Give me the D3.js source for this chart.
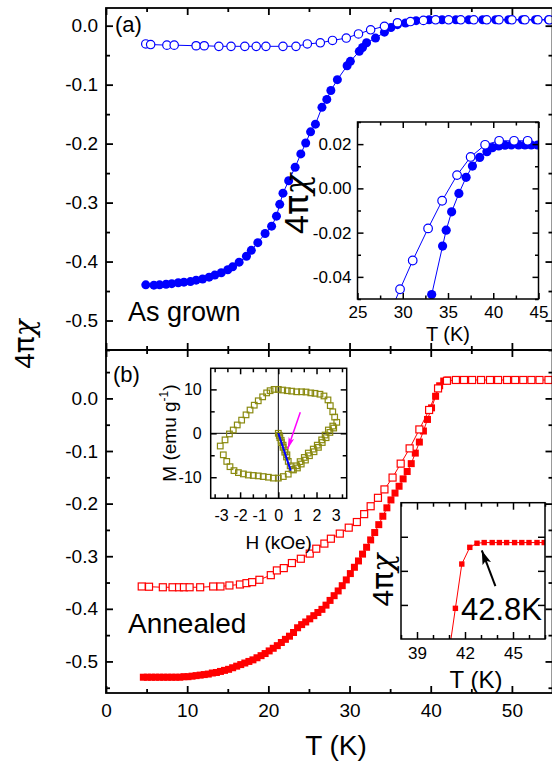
<!DOCTYPE html>
<html lang="en">
<head>
<meta charset="UTF-8">
<title>4pi chi vs T</title>
<style>
  body { margin: 0; background: #fff; }
  svg { display: block; }
  text { font-family: "Liberation Sans", Arial, Helvetica, sans-serif; fill: #000; }
</style>
</head>
<body>
<svg id="chart" width="552" height="763"></svg>
<script src="https://cdn.jsdelivr.net/npm/d3@7"></script>
<script>
// ---- data: [T (K), 4pi chi] ----
const aOpen = [[4.9,-0.031],[5.5,-0.032],[7.5,-0.033],[8.4,-0.033],[11.1,-0.034],[12.1,-0.034],[13.9,-0.035],[15.4,-0.035],[17.1,-0.035],[18.5,-0.035],[19.7,-0.035],[21.8,-0.035],[23.4,-0.035],[24.8,-0.031],[26.4,-0.029],[27.9,-0.025],[29.6,-0.021],[31.1,-0.014],[32.6,-0.007],[34.3,-0.001],[35.9,0.005],[37.5,0.007],[39.1,0.009],[40.6,0.010],[42.2,0.010],[43.7,0.010],[45.3,0.010],[46.9,0.010],[48.4,0.010],[50.0,0.010],[51.6,0.010],[53.2,0.010],[54.6,0.010]];
const aFilled = [[4.9,-0.4395],[5.9,-0.440],[6.6,-0.4395],[7.4,-0.4385],[8.1,-0.4375],[8.9,-0.436],[9.6,-0.435],[10.4,-0.434],[11.1,-0.4315],[11.9,-0.4295],[12.7,-0.4265],[13.4,-0.423],[14.2,-0.419],[15.0,-0.414],[15.6,-0.409],[16.4,-0.401],[17.3,-0.391],[17.9,-0.381],[18.7,-0.368],[19.6,-0.3525],[20.4,-0.340],[21.0,-0.323],[21.4,-0.303],[21.8,-0.284],[22.5,-0.263],[23.3,-0.240],[24.0,-0.2175],[24.6,-0.199],[25.2,-0.180],[25.8,-0.167],[26.6,-0.1385],[27.2,-0.125],[27.7,-0.110],[28.5,-0.0915],[29.7,-0.068],[30.1,-0.0605],[31.2,-0.0435],[31.6,-0.037],[32.1,-0.029],[33.2,-0.021],[34.3,-0.011],[35.1,-0.003],[35.9,0.0017],[36.9,0.0045],[38.2,0.0085],[39.8,0.010],[41.4,0.010],[43.1,0.010],[44.7,0.010],[46.4,0.010],[48.0,0.010],[49.6,0.010],[51.3,0.010],[52.9,0.010],[54.5,0.010]];
const insetAOpen = [[28.3,-0.059],[29.7,-0.0456],[31.1,-0.0326],[32.8,-0.0181],[34.35,-0.0056],[36.0,0.006],[37.5,0.0142],[39.1,0.0197],[40.65,0.0215],[42.3,0.0215],[43.8,0.0215]];
const insetAFilled = [[32.5,-0.061],[33.2,-0.048],[34.4,-0.0261],[34.8,-0.0189],[35.4,-0.0106],[36.2,-0.0023],[37.0,0.005],[37.7,0.0101],[38.5,0.014],[39.3,0.0166],[39.9,0.0184],[40.6,0.0192],[41.3,0.0195],[42.0,0.0196],[42.8,0.0196],[43.5,0.0196],[44.2,0.0196],[44.9,0.0196]];

const bOpen = [[4.4,-0.3575],[5.3,-0.358],[7.0,-0.359],[8.2,-0.359],[9.0,-0.359],[9.6,-0.359],[10.3,-0.359],[11.6,-0.359],[13.2,-0.3575],[14.1,-0.3575],[15.2,-0.3556],[16.5,-0.3537],[17.3,-0.3512],[18.0,-0.3493],[18.9,-0.3448],[20.3,-0.336],[21.05,-0.327],[21.9,-0.3226],[22.9,-0.313],[24.0,-0.3048],[25.1,-0.295],[25.9,-0.2857],[26.9,-0.276],[27.7,-0.2667],[28.8,-0.257],[29.9,-0.2457],[30.9,-0.235],[31.8,-0.220],[32.6,-0.205],[33.5,-0.189],[34.3,-0.173],[35.3,-0.1505],[36.3,-0.124],[37.4,-0.095],[38.6,-0.059],[39.8,-0.022],[40.9,0.019],[42.0,0.0335],[43.1,0.035],[44.1,0.035],[45.1,0.035],[46.2,0.035],[47.3,0.035],[48.3,0.035],[49.4,0.035],[50.4,0.035],[51.4,0.035],[52.4,0.035],[53.4,0.035],[54.5,0.035]];
const bFilled = [[4.6,-0.530],[5.1,-0.530],[5.6,-0.530],[6.1,-0.530],[6.6,-0.530],[7.1,-0.530],[7.6,-0.530],[8.1,-0.530],[8.6,-0.530],[9.1,-0.530],[9.6,-0.529],[10.1,-0.529],[10.6,-0.528],[11.1,-0.527],[11.6,-0.526],[12.1,-0.525],[12.6,-0.524],[13.1,-0.522],[13.6,-0.521],[14.1,-0.519],[14.6,-0.517],[15.1,-0.515],[15.6,-0.512],[16.1,-0.509],[16.6,-0.506],[17.1,-0.503],[17.6,-0.500],[18.1,-0.497],[18.6,-0.493],[19.1,-0.489],[19.6,-0.485],[20.1,-0.480],[20.6,-0.475],[21.1,-0.470],[21.6,-0.464],[22.1,-0.458],[22.6,-0.452],[23.1,-0.445],[23.6,-0.436],[24.1,-0.430],[24.6,-0.425],[25.1,-0.419],[25.6,-0.413],[26.1,-0.407],[26.6,-0.401],[27.1,-0.393],[27.6,-0.384],[28.1,-0.375],[28.6,-0.366],[29.1,-0.356],[29.6,-0.345],[30.1,-0.333],[30.6,-0.321],[31.1,-0.309],[31.6,-0.296],[32.1,-0.283],[32.6,-0.269],[33.1,-0.255],[33.6,-0.240],[34.1,-0.224],[34.6,-0.208],[35.1,-0.193],[35.6,-0.180],[36.1,-0.167],[36.6,-0.153],[37.1,-0.139],[37.6,-0.124],[38.1,-0.104],[38.6,-0.083],[39.1,-0.062],[39.6,-0.040],[40.1,-0.018],[40.6,0.004],[41.1,0.024],[41.6,0.033],[42.1,0.035]];
// zoomed transition, unlabeled y axis
const insetB = [[41.0,-0.4],[41.4,0.90],[41.8,2.2],[42.3,2.69],[42.75,2.81],[43.2,2.83],[43.7,2.83],[44.15,2.83],[44.6,2.83],[45.1,2.83],[45.55,2.83],[46.0,2.83],[46.5,2.83],[46.95,2.83]];
const arrowTc = [[43.9,1.55],[43.05,2.6]];

// M-H loop: [H (kOe), M (emu/g)]
const mhLoop = [[0,0],[0.08,-1.0],[0.16,-2.1],[0.25,-3.2],[0.34,-4.3],[0.43,-5.4],[0.52,-6.4],[0.62,-7.4],[0.72,-8.2],
  [0.96,-7.4],[1.14,-6.45],[1.36,-5.5],[1.57,-4.5],[1.83,-3.6],[2.04,-2.7],[2.27,-1.5],[2.45,-0.4],[2.62,0.75],[2.85,1.65],[3.06,2.5],
  [2.95,3.7],[2.85,4.9],[2.72,6.3],[2.6,7.6],[2.39,8.5],[2.18,8.9],[1.92,9.1],[1.7,9.2],[1.45,9.4],[1.22,9.45],[0.96,9.45],[0.7,9.6],[0.47,9.7],[0.23,9.85],[0,10.0],
  [-0.22,10.0],[-0.43,9.7],[-0.61,9.2],[-0.82,8.3],[-1.05,7.4],[-1.26,6.4],[-1.48,5.3],[-1.69,4.2],[-1.92,3.0],[-2.15,1.9],[-2.36,0.75],[-2.56,-0.15],[-2.79,-1.5],[-3.04,-2.9],
  [-2.88,-4.9],[-2.7,-6.4],[-2.53,-7.6],[-2.32,-8.5],[-2.09,-8.95],[-1.83,-9.25],[-1.57,-9.5],[-1.31,-9.6],[-1.05,-9.7],[-0.79,-9.85],[-0.52,-10.0],[-0.26,-10.2],[0,-10.2],
  [0.26,-9.85],[0.52,-9.3],[0.79,-8.35],[1.0,-7.9],[1.2,-7.0],[1.42,-6.1],[1.63,-5.1],[1.87,-4.2],[2.1,-3.2],[2.3,-2.1],[2.5,-1.0],[2.7,0.2],[2.9,1.2],
  [0.05,-0.5],[0.15,-1.6],[0.25,-2.7],[0.35,-3.8],[0.45,-4.9]];
const mhVirgin = [[0,0],[0.65,-8.5]];
const mhArrow = [[1.15,4.8],[0.49,-3.6]];

// tick values / labels
const xMajor = [0,10,20,30,40,50], xMinor = [5,15,25,35,45,55];
const yMajorA = [-0.5,-0.4,-0.3,-0.2,-0.1,0.0], yMinorA = [-0.55,-0.45,-0.35,-0.25,-0.15,-0.05];
const yMajorB = [-0.5,-0.4,-0.3,-0.2,-0.1,0.0], yMinorB = [-0.55,-0.45,-0.35,-0.25,-0.15,-0.05,0.05];
const iaXMajor = [25,30,35,40,45], iaXMinor = [27.5,32.5,37.5,42.5];
const iaYMajor = [-0.04,-0.02,0.00,0.02], iaYMinor = [-0.05,-0.03,-0.01,0.01,0.03];
const mhXLabels = [-3,-2,-1,0,1,2,3];
const mhXMajor = [-2,0,2], mhXMinor = [-3.333,-2.667,-1.333,-0.667,0.667,1.333,2.667,3.333];
const mhYMajor = [-10,0,10], mhYMinor = [-5,5];
const ibXMajor = [39,42,45], ibXMinor = [38,40,41,43,44,46,47];
const ibYMajor = [1,2,3];

const font = '"Liberation Sans", Arial, Helvetica, sans-serif';
const svg = d3.select("#chart");
const dash = s => s.replace("\u2212", "-");

// scales
const x = d3.scaleLinear().domain([0, 55]).range([106, 552.5]);
const yA = d3.scaleLinear().domain([-0.55, 0.03]).range([350, 8]);
const yB = d3.scaleLinear().domain([-0.56, 0.092]).range([693, 350]);
const xIA = d3.scaleLinear().domain([25, 45]).range([357.5, 538.5]);
const yIA = d3.scaleLinear().domain([-0.05, 0.03]).range([299, 122]);
const xMH = d3.scaleLinear().domain([-3.54, 3.58]).range([210.7, 346.7]);
const yMH = d3.scaleLinear().domain([-14.8, 14.8]).range([498.3, 368.3]);
const xIB = d3.scaleLinear().domain([38, 47]).range([401, 545]);
const yIB = d3.scaleLinear().domain([0, 4]).range([639, 502.7]);

const defs = svg.append("defs");
let clipN = 0;
function clipFor(xs, ys) {
    const id = "clip" + (clipN++);
    defs.append("clipPath").attr("id", id).append("rect")
        .attr("x", xs.range()[0]).attr("y", ys.range()[1])
        .attr("width", xs.range()[1] - xs.range()[0]).attr("height", ys.range()[0] - ys.range()[1]);
    return `url(#${id})`;
}

// frame with inward ticks on all four sides
function frame(g, xs, ys, t) {
    const [x0, x1] = xs.range(), [y0, y1] = ys.range();
    g.append("rect").attr("x", x0).attr("y", y1).attr("width", x1 - x0).attr("height", y0 - y1)
        .attr("fill", "none").attr("stroke", "#000").attr("stroke-width", t.sw);
    const sides = [
        [d3.axisBottom, xs, `translate(0,${y0})`, t.xMajor, t.xMinor],
        [d3.axisTop, xs, `translate(0,${y1})`, t.xMajor, t.xMinor],
        [d3.axisLeft, ys, `translate(${x0},0)`, t.yMajor, t.yMinor],
        [d3.axisRight, ys, `translate(${x1},0)`, t.yMajor, t.yMinor]
    ];
    sides.forEach(([ax, s, tr, maj, min]) => {
        [[maj, t.len], [min, t.minLen]].forEach(([vals, L]) => {
            if (!vals || !vals.length) return;
            g.append("g").attr("transform", tr)
                .call(ax(s).tickValues(vals).tickSize(-L).tickSizeOuter(0).tickFormat(""))
                .call(a => a.select(".domain").remove())
                .selectAll("line").attr("stroke", "#000").attr("stroke-width", t.sw);
        });
    });
}

function labels(g, axisFn, scale, tr, vals, fmt, pad, size) {
    g.append("g").attr("transform", tr)
        .call(axisFn(scale).tickValues(vals).tickSize(0).tickPadding(pad).tickFormat(fmt))
        .call(a => a.select(".domain").remove())
        .selectAll("text").attr("font-size", size).attr("font-family", font).attr("fill", "#000");
}

// rotated "4πχ" title; chi slanted like the symbol font
function chiLabel(g, tx, ty, size) {
    const t = g.append("text").attr("transform", `translate(${tx},${ty}) rotate(-90)`)
        .attr("text-anchor", "middle").attr("font-size", size);
    t.append("tspan").text("4");
    t.append("tspan").attr("font-family", '"DejaVu Sans", sans-serif').text("π");
    t.append("tspan").attr("font-family", '"DejaVu Serif", serif').attr("font-style", "italic").text("χ");
}

function series(g, xs, ys, data, opt) {
    const line = d3.line().x(d => xs(d[0])).y(d => ys(d[1]));
    g.append("path").datum(data).attr("d", line).attr("fill", "none")
        .attr("stroke", opt.color).attr("stroke-width", 1);
    if (opt.shape === "circle") {
        g.selectAll(null).data(data).join("circle")
            .attr("cx", d => xs(d[0])).attr("cy", d => ys(d[1])).attr("r", opt.size)
            .attr("fill", opt.open ? "#fff" : opt.color)
            .attr("stroke", opt.open ? opt.color : "none").attr("stroke-width", 1.2);
    } else {
        g.selectAll(null).data(data).join("rect")
            .attr("x", d => xs(d[0]) - opt.size / 2).attr("y", d => ys(d[1]) - opt.size / 2)
            .attr("width", opt.size).attr("height", opt.size)
            .attr("fill", opt.open ? "#fff" : opt.color)
            .attr("stroke", opt.open ? opt.color : "none").attr("stroke-width", 1.2);
    }
}

// ---------- panel (a) ----------
const gA = svg.append("g");
const plotA = gA.append("g").attr("clip-path", clipFor(x, yA));
series(plotA, x, yA, aFilled, { color: "#0000ff", shape: "circle", size: 4.5 });
series(plotA, x, yA, aOpen, { color: "#0000ff", shape: "circle", size: 4.2, open: true });
frame(gA, x, yA, { xMajor, xMinor, yMajor: yMajorA, yMinor: yMinorA, len: 7, minLen: 4, sw: 1.8 });
labels(gA, d3.axisLeft, yA, "translate(106,0)", yMajorA, d => dash(d3.format(".1f")(d)), 8, 19);

gA.append("text").attr("x", 115).attr("y", 32).attr("font-size", 22).text("(a)");
gA.append("text").attr("x", 128).attr("y", 321).attr("font-size", 27).text("As grown");

// inset (a)
const gIA = svg.append("g");
gIA.append("rect").attr("x", 357.5).attr("y", 122).attr("width", 181).attr("height", 177).attr("fill", "#fff");
const plotIA = gIA.append("g").attr("clip-path", clipFor(xIA, yIA));
series(plotIA, xIA, yIA, insetAFilled, { color: "#0000ff", shape: "circle", size: 4.6 });
series(plotIA, xIA, yIA, insetAOpen, { color: "#0000ff", shape: "circle", size: 4.3, open: true });
frame(gIA, xIA, yIA, { xMajor: iaXMajor, xMinor: iaXMinor, yMajor: iaYMajor, yMinor: iaYMinor, len: 6, minLen: 3.5, sw: 1.5 });
labels(gIA, d3.axisLeft, yIA, "translate(357.5,0)", iaYMajor, d => dash(d3.format(".2f")(d)), 6, 17);
labels(gIA, d3.axisBottom, xIA, "translate(0,299)", iaXMajor, d3.format("d"), 7, 17);
gIA.append("text").attr("x", 448).attr("y", 341).attr("text-anchor", "middle").attr("font-size", 20).text("T (K)");
chiLabel(gIA, 308, 204, 34);

// ---------- panel (b) ----------
const gB = svg.append("g");
const plotB = gB.append("g").attr("clip-path", clipFor(x, yB));
series(plotB, x, yB, bFilled, { color: "#ff0000", shape: "square", size: 7 });
series(plotB, x, yB, bOpen, { color: "#ff0000", shape: "square", size: 7, open: true });
frame(gB, x, yB, { xMajor, xMinor, yMajor: yMajorB, yMinor: yMinorB, len: 7, minLen: 4, sw: 1.8 });
labels(gB, d3.axisLeft, yB, "translate(106,0)", yMajorB, d => dash(d3.format(".1f")(d)), 8, 19);
labels(gB, d3.axisBottom, x, "translate(0,693)", xMajor, d3.format("d"), 11, 19);

gB.append("text").attr("x", 113).attr("y", 382).attr("font-size", 22).text("(b)");
gB.append("text").attr("x", 128).attr("y", 633).attr("font-size", 28).text("Annealed");

// M-H inset
const gMH = svg.append("g");
gMH.append("rect").attr("x", 210.7).attr("y", 368.3).attr("width", 136).attr("height", 130).attr("fill", "#fff");
const plotMH = gMH.append("g").attr("clip-path", clipFor(xMH, yMH));
plotMH.append("line").attr("x1", xMH(0)).attr("x2", xMH(0)).attr("y1", yMH.range()[0]).attr("y2", yMH.range()[1])
    .attr("stroke", "#000").attr("stroke-width", 1);
plotMH.append("line").attr("x1", xMH.range()[0]).attr("x2", xMH.range()[1]).attr("y1", yMH(0)).attr("y2", yMH(0))
    .attr("stroke", "#000").attr("stroke-width", 1);
plotMH.selectAll(null).data(mhLoop).join("rect")
    .attr("x", d => xMH(d[0]) - 2.8).attr("y", d => yMH(d[1]) - 2.8).attr("width", 5.6).attr("height", 5.6)
    .attr("fill", "none").attr("stroke", "#8a8a10").attr("stroke-width", 1.2);
const lineMH = d3.line().x(d => xMH(d[0])).y(d => yMH(d[1]));
plotMH.append("path").datum(mhVirgin).attr("d", lineMH).attr("stroke", "#0000ff").attr("stroke-width", 2).attr("fill", "none");
defs.append("marker").attr("id", "headM").attr("viewBox", "0 0 12 6").attr("refX", 12).attr("refY", 3)
    .attr("markerWidth", 12).attr("markerHeight", 6).attr("markerUnits", "userSpaceOnUse").attr("orient", "auto")
    .append("path").attr("d", "M0,0 L12,3 L0,6 L3,3 Z").attr("fill", "#ff00ff");
plotMH.append("path").datum(mhArrow).attr("d", lineMH).attr("stroke", "#ff00ff").attr("stroke-width", 1.5)
    .attr("fill", "none").attr("marker-end", "url(#headM)");
frame(gMH, xMH, yMH, { xMajor: mhXMajor, xMinor: mhXMinor, yMajor: mhYMajor, yMinor: mhYMinor, len: 6, minLen: 4, sw: 1.5 });
labels(gMH, d3.axisLeft, yMH, "translate(210.7,0)", mhYMajor, d => dash(d3.format("d")(d)), 9, 16);
labels(gMH, d3.axisBottom, xMH, "translate(0,498.3)", mhXLabels, d => dash(d3.format("d")(d)), 11, 16);
gMH.append("text").attr("x", 278.7).attr("y", 549).attr("text-anchor", "middle").attr("font-size", 19).text("H (kOe)");
const mLab = gMH.append("text").attr("transform", "translate(176,433) rotate(-90)").attr("text-anchor", "middle")
    .attr("font-size", 19);
mLab.append("tspan").text("M (emu g");
mLab.append("tspan").attr("font-size", 12).attr("dy", -8).text("-1");
mLab.append("tspan").attr("dy", 8).text(")");

// inset (b) transition
const gIB = svg.append("g");
gIB.append("rect").attr("x", 401).attr("y", 502.7).attr("width", 144).attr("height", 136.3).attr("fill", "#fff");
const plotIB = gIB.append("g").attr("clip-path", clipFor(xIB, yIB));
series(plotIB, xIB, yIB, insetB, { color: "#ff0000", shape: "square", size: 5.4 });
frame(gIB, xIB, yIB, { xMajor: ibXMajor, xMinor: ibXMinor, yMajor: ibYMajor, yMinor: [], len: 7, minLen: 4, sw: 1.5 });
labels(gIB, d3.axisBottom, xIB, "translate(0,639)", ibXMajor, d3.format("d"), 8, 17);
defs.append("marker").attr("id", "headK").attr("viewBox", "0 0 14 9").attr("refX", 14).attr("refY", 4.5)
    .attr("markerWidth", 14).attr("markerHeight", 9).attr("markerUnits", "userSpaceOnUse").attr("orient", "auto")
    .append("path").attr("d", "M0,0 L14,4.5 L0,9 L3,4.5 Z").attr("fill", "#000");
gIB.append("path").datum(arrowTc).attr("d", d3.line().x(d => xIB(d[0])).y(d => yIB(d[1])))
    .attr("stroke", "#000").attr("stroke-width", 2).attr("fill", "none").attr("marker-end", "url(#headK)");
gIB.append("text").attr("x", 461).attr("y", 620).attr("font-size", 31).text("42.8K");
gIB.append("text").attr("x", 476).attr("y", 688).attr("text-anchor", "middle").attr("font-size", 24).text("T (K)");
chiLabel(gIB, 393, 580, 30);

// ---------- shared axis titles ----------
svg.append("text").attr("x", 336).attr("y", 755).attr("text-anchor", "middle").attr("font-size", 28).text("T (K)");
chiLabel(svg, 34, 344, 28);
</script>
</body>
</html>
